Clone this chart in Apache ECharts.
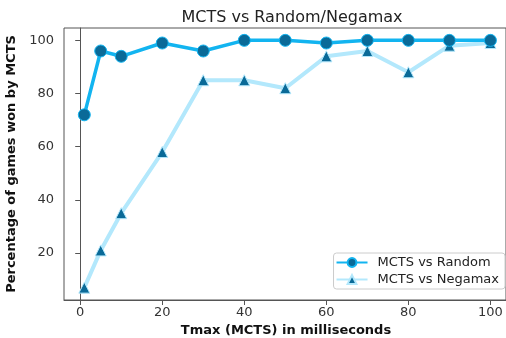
<!DOCTYPE html>
<html>
<head>
<meta charset="utf-8">
<script src="https://cdn.jsdelivr.net/npm/echarts@6/dist/echarts.min.js"></script>
<style>
 html, body { margin: 0; padding: 0; background: #fff; }
 #chart { width: 506px; height: 338px; }
</style>
</head>
<body>
<div id="chart"></div>
<script>
// Tmax values (ms) and win percentages
const tmax = [1, 5, 10, 20, 30, 40, 50, 60, 70, 80, 90, 100];
const vsRandom = [72, 96, 94, 99, 96, 100, 100, 99, 100, 100, 100, 100];
const vsNegamax = [7, 21, 35, 58, 85, 85, 82, 94, 96, 88, 98, 99];
const xTicks = [0, 20, 40, 60, 80, 100];
const yTicks = [20, 40, 60, 80, 100];

const font = 'DejaVu Sans';
const pairs = (xs, ys) => xs.map((x, i) => [x, ys[i]]);

const chart = echarts.init(document.getElementById('chart'));
chart.setOption({
 animation: false,
 title: {
  text: 'MCTS vs Random/Negamax',
  left: 287, top: 5, textAlign: 'center',
  textStyle: { fontFamily: font, fontSize: 16, fontWeight: 'normal', color: '#222' }
 },
 grid: {
  left: 64, top: 28, right: 0, bottom: 38,
  outerBoundsMode: 'none', containLabel: false,
  show: true, borderColor: '#555', borderWidth: 1
 },
 legend: {
  right: 1, top: 253,
  orient: 'vertical',
  itemWidth: 31, itemHeight: 11, itemGap: 4,
  padding: [3, 6, 3, 2],
  borderColor: '#ccc', borderWidth: 1, borderRadius: 3,
  textStyle: { fontFamily: font, fontSize: 13, color: '#222', padding: [0, 0, 0, 5] },
  data: ['MCTS vs Random', 'MCTS vs Negamax']
 },
 xAxis: {
  type: 'value', min: -3.95, max: 103.8,
  name: 'Tmax (MCTS) in milliseconds',
  nameLocation: 'middle', nameGap: 23,
  nameTextStyle: { fontFamily: font, fontSize: 13, fontWeight: 'bold', color: '#111', padding: [0, 0, 0, 2] },
  axisLine: { show: true, lineStyle: { color: '#555' } },
  axisTick: { show: true, length: 5, customValues: xTicks, lineStyle: { color: '#555' } },
  axisLabel: { customValues: xTicks, fontFamily: font, fontSize: 13, color: '#333', margin: 6 },
  splitLine: { show: false }
 },
 yAxis: {
  type: 'value', min: 2.35, max: 104.65,
  name: 'Percentage of games won by MCTS',
  nameLocation: 'middle', nameGap: 38,
  nameTextStyle: { fontFamily: font, fontSize: 13, fontWeight: 'bold', color: '#111' },
  axisLine: { show: true, lineStyle: { color: '#555' } },
  axisTick: { show: true, length: 5, customValues: yTicks, lineStyle: { color: '#555' } },
  axisLabel: { customValues: yTicks, fontFamily: font, fontSize: 13, color: '#333', margin: 10 },
  splitLine: { show: false }
 },
 series: [
  {
   name: 'MCTS vs Negamax',
   type: 'line',
   data: pairs(tmax, vsNegamax),
   symbol: 'triangle', symbolSize: 11,
   lineStyle: { color: '#b3e8fc', width: 4 },
   itemStyle: { color: '#0a6a98', borderColor: '#b3e8fc', borderWidth: 1 },
   z: 2
  },
  {
   name: 'MCTS vs Random',
   type: 'line',
   data: pairs(tmax, vsRandom),
   symbol: 'circle', symbolSize: 12,
   lineStyle: { color: '#12b4f0', width: 3.5 },
   itemStyle: { color: '#0a6a98', borderColor: '#12b4f0', borderWidth: 1 },
   z: 3
  }
 ]
});
</script>
</body>
</html>
